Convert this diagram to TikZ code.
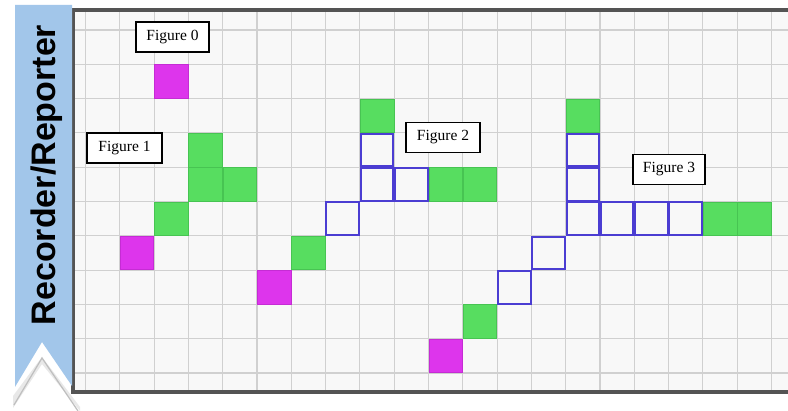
\documentclass[tikz,border=0pt]{standalone}
\usepackage{fontspec}
\setmainfont{Liberation Serif}
\newfontfamily\tabfont{Liberation Sans}
\definecolor{tabblue}{HTML}{A2C6EA}
\definecolor{gridgray}{HTML}{D0D0D0}
\definecolor{framegray}{HTML}{545454}
\definecolor{bgwhite}{HTML}{F8F8F8}
\definecolor{cellgreen}{HTML}{57DD60}
\definecolor{cellgreenedge}{HTML}{47C452}
\definecolor{cellmag}{HTML}{DD35EC}
\definecolor{cellmagedge}{HTML}{C52CD4}
\definecolor{cellblue}{HTML}{4B3DD2}
\begin{document}
\begin{tikzpicture}[x=1pt,y=-1pt,
  cellbase/.style={minimum size=34.3pt,inner sep=0pt,outer sep=0pt},
  greencell/.style={cellbase,fill=cellgreen,draw=cellgreenedge,line width=0.6pt,minimum size=33.6pt},
  magcell/.style={cellbase,fill=cellmag,draw=cellmagedge,line width=0.6pt,minimum size=33.6pt},
  bluecell/.style={cellbase,draw=cellblue,line width=2pt,minimum size=32.6pt},
  figlabel/.style={draw=black,line width=1.6pt,fill=white,font=\fontsize{15.5}{17}\selectfont,
    minimum width=73pt,minimum height=30pt,inner sep=0pt},
  gridline/.style={draw=gridgray,line width=1.1pt},
  frameline/.style={draw=framegray,line width=3.5pt}]
\useasboundingbox (0,0) rectangle (788,411);
\fill[white] (0,0) rectangle (788,411);
% frame background and grid
\fill[bgwhite] (73,10) rectangle (790,392);
\begin{scope}
\clip (73,10) rectangle (790,392);
\foreach \k in {0,...,21} \draw[gridline] ({85.5+34.3*\k},10) -- ({85.5+34.3*\k},392);
\foreach \j in {0,...,10} \draw[gridline] (73,{30+34.3*\j}) -- (790,{30+34.3*\j});
\end{scope}
\draw[frameline] (792,10) -- (73,10) -- (73,392) -- (792,392);
% cells
\newcommand{\mycell}[4]{\node[#4] (#1) at ({85.5+34.3*(#2+0.5)},{30+34.3*(#3+0.5)}) {};}
% Figure 0
\mycell{fzm}{2}{1}{magcell}
% Figure 1
\mycell{fam}{1}{6}{magcell}
\mycell{fag1}{2}{5}{greencell}
\mycell{fag2}{3}{4}{greencell}
\mycell{fag3}{4}{4}{greencell}
\mycell{fag4}{3}{3}{greencell}
% Figure 2
\mycell{fbm}{5}{7}{magcell}
\mycell{fbg1}{6}{6}{greencell}
\mycell{fbb1}{7}{5}{bluecell}
\mycell{fbb2}{8}{4}{bluecell}
\mycell{fbb3}{9}{4}{bluecell}
\mycell{fbg2}{10}{4}{greencell}
\mycell{fbg3}{11}{4}{greencell}
\mycell{fbb4}{8}{3}{bluecell}
\mycell{fbg4}{8}{2}{greencell}
% Figure 3
\mycell{fcm}{10}{9}{magcell}
\mycell{fcg1}{11}{8}{greencell}
\mycell{fcb1}{12}{7}{bluecell}
\mycell{fcb2}{13}{6}{bluecell}
\mycell{fcb3}{14}{5}{bluecell}
\mycell{fcb4}{15}{5}{bluecell}
\mycell{fcb5}{16}{5}{bluecell}
\mycell{fcb6}{17}{5}{bluecell}
\mycell{fcg2}{18}{5}{greencell}
\mycell{fcg3}{19}{5}{greencell}
\mycell{fcb7}{14}{4}{bluecell}
\mycell{fcb8}{14}{3}{bluecell}
\mycell{fcg4}{14}{2}{greencell}
% labels
\node[figlabel] (l0) at (172.5,37) {Figure 0};
\node[figlabel,minimum width=75pt] (l1) at (124.5,148) {Figure 1};
\node[figlabel,minimum width=74pt] (l2) at (443,137.5) {Figure 2};
\node[figlabel,minimum width=72pt] (l3) at (669,169.5) {Figure 3};
% side tab
\fill[gray!18] (13,396) -- (42,357) -- (80,407) -- (80,411) -- (42,364) -- (13,408) -- cycle;
\draw[gray!50,line width=1.2pt] (14,405) -- (42,358) -- (78,411);
\fill[tabblue] (15,5) -- (72,5) -- (72,386) -- (42,342) -- (15,387) -- cycle;
\node[rotate=90,anchor=base,inner sep=0pt,font=\tabfont\bfseries\fontsize{34}{36}\selectfont] (tab) at (55.5,175) {Recorder/Reporter};
\end{tikzpicture}
\end{document}
